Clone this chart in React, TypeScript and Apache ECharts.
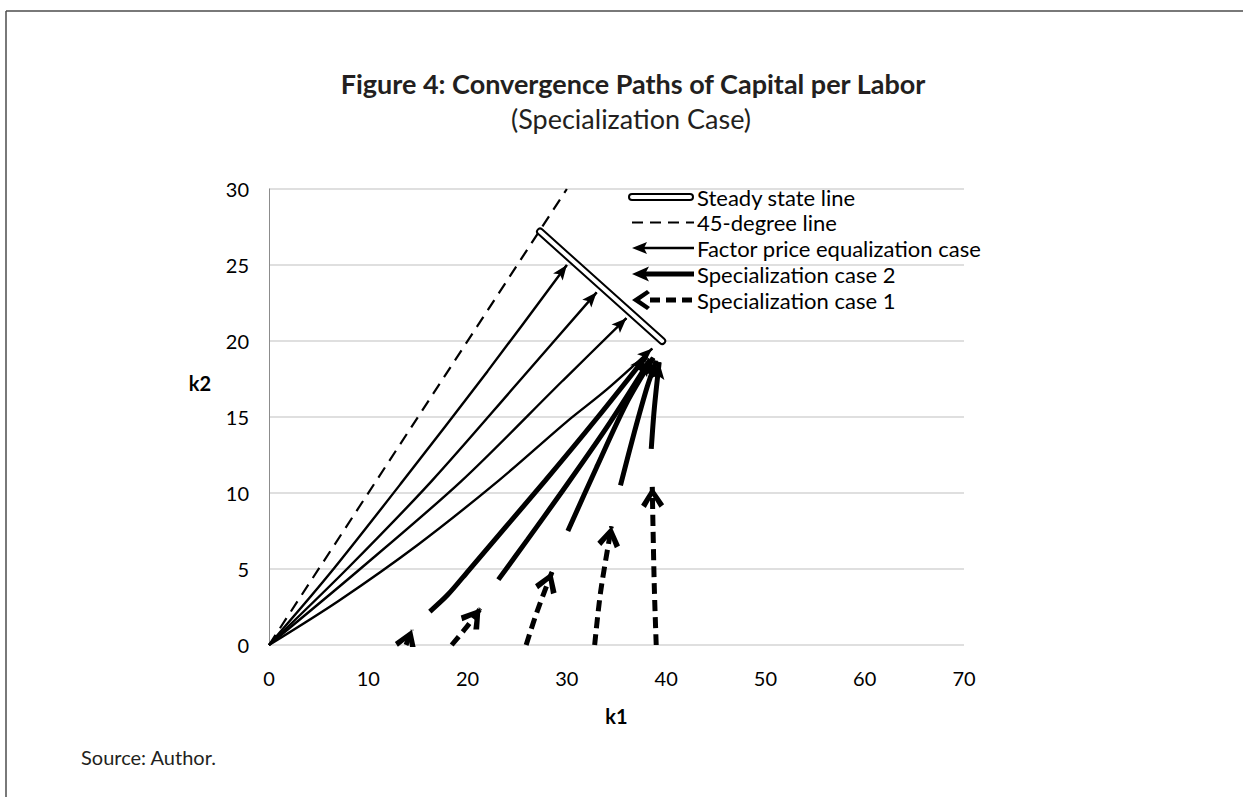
import React, { useEffect, useRef } from "react";
import * as echarts from "echarts";

// ---------- data (k1, k2) ----------
const steadyStateLine: number[][] = [[27.3, 27.2], [39.6, 20.0]];
const line45: number[][] = [[0, 0], [30, 30]];

const fpePaths: number[][][] = [
  [[0, 0], [6, 4.6], [13.5, 10.8], [22, 18], [30, 25]],
  [[0, 0], [8, 5.1], [16.4, 10.8], [25, 17.2], [33, 23.2]],
  [[0, 0], [9, 4.9], [19.4, 10.8], [29.6, 17.4], [36, 21.5]],
  [[0, 0], [7, 2.9], [15, 6.6], [23.1, 10.8], [30, 14.7], [34, 16.8], [38.6, 19.5]],
];

const spec2Paths: number[][][] = [
  [[16.2, 2.2], [18, 3.3], [20.1, 4.9], [27.8, 10.8], [33, 14.9], [38.0, 19.0]],
  [[23.1, 4.3], [26, 6.9], [29.3, 9.9], [34, 14.3], [38.4, 18.8]],
  [[30.1, 7.5], [33, 11.7], [36, 15.9], [38.7, 18.9]],
  [[35.4, 10.5], [36.8, 14], [38.1, 17], [39.0, 18.7]],
  [[38.5, 12.9], [38.8, 15.5], [39.3, 18.6]],
];

const spec1Paths: number[][][] = [
  [[13.8, 0], [14.4, 1.0]],
  [[18.4, 0], [19.8, 1.1], [21.3, 2.4]],
  [[25.9, 0], [27, 2.2], [28.5, 4.8]],
  [[32.8, 0], [33.4, 3.5], [34.5, 7.8]],
  [[39.0, 0], [38.8, 4], [38.6, 10.4]],
];

const legendLabels = [
  "Steady state line",
  "45-degree line",
  "Factor price equalization case",
  "Specialization case 2",
  "Specialization case 1",
];

const FONT = "Lato, 'Open Sans', sans-serif";

// arrowhead shapes with the tip placed at the centre of their box
const ARROW_HEAD = "path://M50,0 L100,100 L50,78 L0,100 Z M50,-100 L50,-100";
const CHEVRON_HEAD = "path://M50,0 L100,80 L80,96 L50,42 L20,96 L0,80 Z M50,-96 L50,-96";

function pathSeries(paths: number[][][], width: number, type: any) {
  return paths.map((p) => ({
    type: "line",
    data: p,
    symbol: "none",
    showSymbol: false,
    smooth: 0.3,
    silent: true,
    z: 3,
    lineStyle: { color: "#000", width, type, cap: "butt" },
  }));
}

function arrowSeries(paths: number[][][], width: number, head: string, size: number[]) {
  return {
    type: "lines",
    coordinateSystem: "cartesian2d",
    silent: true,
    z: 4,
    symbol: ["none", head],
    symbolSize: [0, size],
    lineStyle: { color: "#000", width, type: "solid", opacity: 1 },
    data: paths.map((p) => {
      const a = p[p.length - 2];
      const b = p[p.length - 1];
      const t = 0.03;
      return { coords: [[b[0] + (a[0] - b[0]) * t, b[1] + (a[1] - b[1]) * t], b] };
    }),
  };
}

const legendRowsY = [197, 222.5, 248, 274, 300];

function buildLegend() {
  const els: any[] = [];
  const [y1, y2, y3, y4, y5] = legendRowsY;
  els.push({ type: "line", shape: { x1: 632, y1, x2: 690, y2: y1 }, style: { stroke: "#000", lineWidth: 8, lineCap: "round" } });
  els.push({ type: "line", shape: { x1: 632, y1, x2: 690, y2: y1 }, style: { stroke: "#fff", lineWidth: 4, lineCap: "round" } });
  els.push({ type: "line", shape: { x1: 632, y1: y2, x2: 694, y2 }, style: { stroke: "#000", lineWidth: 2.2, lineDash: [11, 7] } });
  els.push({ type: "line", shape: { x1: 642, y1: y3, x2: 694, y2: y3 }, style: { stroke: "#000", lineWidth: 2.4 } });
  els.push({ type: "polygon", shape: { points: [[632, y3], [647, y3 - 6], [644, y3], [647, y3 + 6]] }, style: { fill: "#000" } });
  els.push({ type: "line", shape: { x1: 644, y1: y4, x2: 694, y2: y4 }, style: { stroke: "#000", lineWidth: 5 } });
  els.push({ type: "polygon", shape: { points: [[632, y4], [649, y4 - 7.5], [645, y4], [649, y4 + 7.5]] }, style: { fill: "#000" } });
  els.push({ type: "line", shape: { x1: 650, y1: y5, x2: 694, y2: y5 }, style: { stroke: "#000", lineWidth: 5, lineDash: [10, 6] } });
  els.push({ type: "polygon", shape: { points: [[632, y5], [647, y5 - 10], [650, y5 - 7], [640, y5], [650, y5 + 7], [647, y5 + 10]] }, style: { fill: "#000" } });
  legendLabels.forEach((t, i) => {
    els.push({
      type: "text",
      x: 697,
      y: legendRowsY[i],
      style: { text: t, font: `22px ${FONT}`, fill: "#000", textVerticalAlign: "middle", textAlign: "left" },
    });
  });
  return els;
}

export default function App() {
  const ref = useRef<HTMLDivElement>(null);
  useEffect(() => {
    const chart = echarts.init(ref.current!, null, { renderer: "svg" });
    const option: any = {
      animation: false,
      backgroundColor: "#fff",
      grid: { left: 269, top: 189, width: 695, height: 456, containLabel: false },
      xAxis: {
        type: "value",
        min: 0,
        max: 70,
        interval: 10,
        name: "k1",
        nameLocation: "middle",
        nameGap: 61,
        nameTextStyle: { fontFamily: FONT, fontSize: 20, fontWeight: "bold", color: "#000" },
        axisLine: { show: false },
        axisTick: { show: false },
        splitLine: { show: false },
        axisLabel: { margin: 23, fontFamily: FONT, fontSize: 20, color: "#000" },
      },
      yAxis: {
        type: "value",
        min: 0,
        max: 30,
        interval: 5,
        axisLine: { show: true, lineStyle: { color: "#8c8c8c", width: 1 } },
        axisTick: { show: false },
        splitLine: { show: true, lineStyle: { color: "#d4d4d4", width: 1.5 } },
        axisLabel: { margin: 20, fontFamily: FONT, fontSize: 20, color: "#000" },
      },
      graphic: [
        { type: "line", shape: { x1: 6, y1: 11, x2: 1243, y2: 11 }, style: { stroke: "#4d4d4d", lineWidth: 1.5 } },
        { type: "line", shape: { x1: 6, y1: 11, x2: 6, y2: 797 }, style: { stroke: "#4d4d4d", lineWidth: 1.5 } },
        { type: "text", x: 633, y: 83, style: { text: "Figure 4: Convergence Paths of Capital per Labor", font: `bold 27px ${FONT}`, fill: "#231f20", textAlign: "center", textVerticalAlign: "middle" } },
        { type: "text", x: 631, y: 118, style: { text: "(Specialization Case)", font: `27px ${FONT}`, fill: "#231f20", textAlign: "center", textVerticalAlign: "middle" } },
        { type: "text", x: 200, y: 383, style: { text: "k2", font: `bold 20px ${FONT}`, fill: "#000", textAlign: "center", textVerticalAlign: "middle" } },
        { type: "text", x: 81, y: 757, style: { text: "Source: Author.", font: `20px ${FONT}`, fill: "#231f20", textAlign: "left", textVerticalAlign: "middle" } },
        ...buildLegend(),
      ],
      series: [
        {
          type: "line", data: line45, symbol: "none", silent: true, z: 2,
          lineStyle: { color: "#000", width: 2.2, type: [12, 8] },
        },
        ...pathSeries(fpePaths, 2.4, "solid"),
        ...pathSeries(spec2Paths, 5, "solid"),
        ...pathSeries(spec1Paths, 5, [11, 6]),
        arrowSeries(fpePaths, 2, ARROW_HEAD, [12, 30]),
        arrowSeries(spec2Paths, 4, ARROW_HEAD, [14, 34]),
        arrowSeries(spec1Paths, 4, CHEVRON_HEAD, [23, 42]),
        {
          type: "line", data: steadyStateLine, symbol: "none", silent: true, z: 5,
          lineStyle: { color: "#000", width: 8, cap: "round" },
        },
        {
          type: "line", data: steadyStateLine, symbol: "none", silent: true, z: 6,
          lineStyle: { color: "#fff", width: 4, cap: "round" },
        },
      ],
    };
    chart.setOption(option);
    return () => chart.dispose();
  }, []);
  return (
    <div
      ref={ref}
      style={{ position: "fixed", left: 0, top: 0, width: 1243, height: 797, background: "#fff" }}
    />
  );
}
